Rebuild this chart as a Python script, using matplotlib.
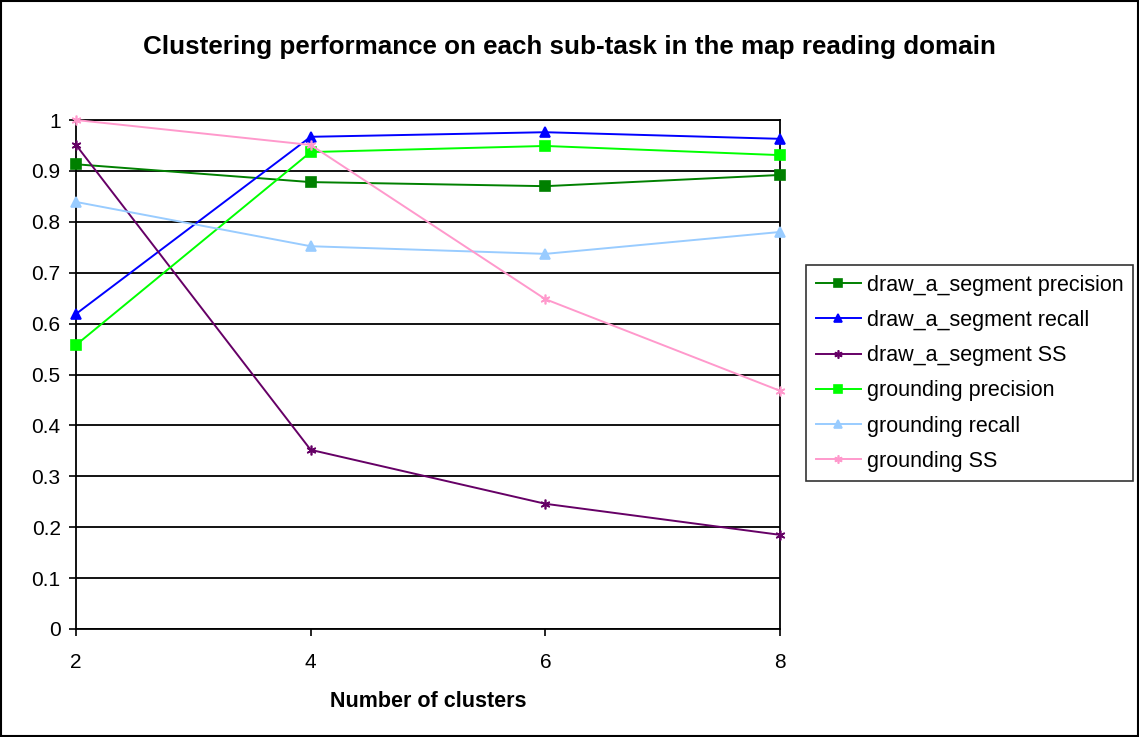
import matplotlib
matplotlib.use("Agg")
import matplotlib.pyplot as plt
from matplotlib.patches import Rectangle

plt.rcParams['font.family'] = ['Liberation Sans', 'DejaVu Sans']

clusters = [2, 4, 6, 8]

draw_precision = [0.913, 0.878, 0.870, 0.892]
draw_recall = [0.619, 0.967, 0.976, 0.963]
draw_ss = [0.951, 0.352, 0.246, 0.185]
grounding_precision = [0.558, 0.937, 0.949, 0.931]
grounding_recall = [0.839, 0.752, 0.737, 0.780]
grounding_ss = [1.0, 0.951, 0.648, 0.468]

series_names = [
    "draw_a_segment precision",
    "draw_a_segment recall",
    "draw_a_segment SS",
    "grounding precision",
    "grounding recall",
    "grounding SS",
]
series_values = [draw_precision, draw_recall, draw_ss,
                 grounding_precision, grounding_recall, grounding_ss]
colors = ["#008000", "#0000FF", "#660066", "#00FF00", "#99CCFF", "#FF99CC"]
markers = ["s", "^", (6, 2, 0), "s", "^", (6, 2, 0)]
msizes = [6.5, 7.5, 7, 6.5, 7.5, 7]

fig = plt.figure(figsize=(11.39, 7.37), dpi=100)
ax = fig.add_axes([76 / 1139, 1 - 629 / 737, 704 / 1139, 509 / 737])

for name, vals, c, m, ms in zip(series_names, series_values, colors, markers, msizes):
    ax.plot(clusters, vals, color=c, marker=m, markersize=ms, linewidth=1.4,
            markeredgecolor=c, markerfacecolor=c, markeredgewidth=1.2,
            label=name, clip_on=False, zorder=3)

ax.set_xlim(2, 8)
ax.set_ylim(0, 1)
ax.set_xticks(clusters)
ax.set_yticks([i / 10 for i in range(11)])
ax.set_yticklabels(["0", "0.1", "0.2", "0.3", "0.4", "0.5", "0.6", "0.7", "0.8", "0.9", "1"])
ax.yaxis.grid(True, color="black", linewidth=1.3)
ax.set_axisbelow(True)
for s in ax.spines.values():
    s.set_color("black")
    s.set_linewidth(1.3)
ax.tick_params(axis="both", direction="out", length=5, width=1.2, labelsize=15, colors="black")
ax.tick_params(axis="y", pad=6)
ax.tick_params(axis="x", pad=12)

ax.set_xlabel("Number of clusters", fontsize=15.5, fontweight="bold", labelpad=14)
fig.text(0.5, 1 - 47 / 737, "Clustering performance on each sub-task in the map reading domain",
         ha="center", va="center", fontsize=18.7, fontweight="bold")

leg = ax.legend(loc="upper left", bbox_to_anchor=(806 / 1139, 1 - 265 / 737),
                bbox_transform=fig.transFigure, fontsize=15.5, frameon=True,
                fancybox=False, edgecolor="black", handlelength=2.1,
                labelspacing=0.66, borderpad=0.45, handletextpad=0.28,
                borderaxespad=0, markerscale=0.85)
leg.get_frame().set_linewidth(1.2)

fig.patches.append(Rectangle((0.001, 0.001), 0.998, 0.998, transform=fig.transFigure,
                             fill=False, edgecolor="black", linewidth=1.5))

fig.savefig("out.png", dpi=100, facecolor="white")
